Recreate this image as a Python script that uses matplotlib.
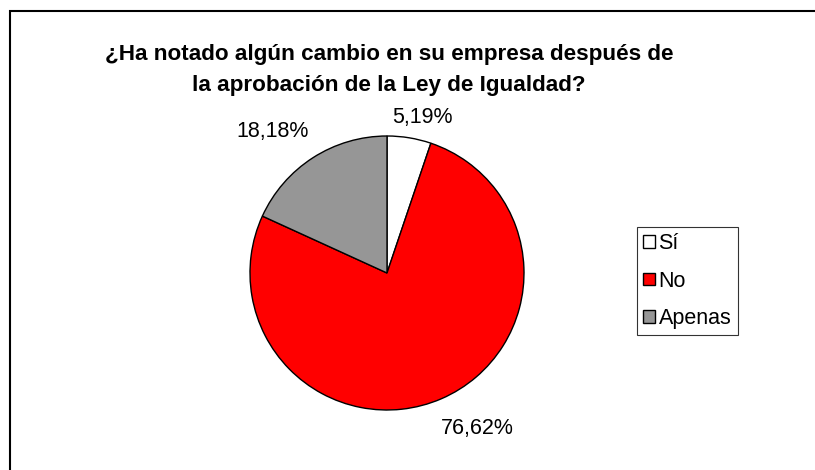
import numpy as np
import matplotlib
matplotlib.use("Agg")
import matplotlib.pyplot as plt
from matplotlib.patches import Rectangle

plt.rcParams["font.family"] = ["Liberation Sans", "DejaVu Sans"]

# data
categories = ["Sí", "No", "Apenas"]
values = [5.19, 76.62, 18.18]
value_labels = ["5,19%", "76,62%", "18,18%"]
colors = ["#FFFFFF", "#FF0000", "#969696"]
title = "¿Ha notado algún cambio en su empresa después de\nla aprobación de la Ley de Igualdad?"

# layout (pixel-like coordinates, y up)
W, H = 815, 470
center = (387, H - 273)
radius = 137
label_r = [1.16, 1.31, 1.33]        # label distance / radius
label_shift = [-3.4, 6.7, 6.3]      # degrees added to wedge mid-angle

fig = plt.figure(figsize=(W / 100, H / 100), dpi=100)
ax = fig.add_axes([0, 0, 1, 1])

wedges, _ = ax.pie(values, colors=colors, startangle=90, counterclock=False,
                   center=center, radius=radius,
                   wedgeprops=dict(edgecolor="black", linewidth=1.0))
ax.set_xlim(0, W)
ax.set_ylim(0, H)
ax.set_aspect("equal")
ax.axis("off")

for w, lab, r, sh in zip(wedges, value_labels, label_r, label_shift):
    mid = np.deg2rad((w.theta1 + w.theta2) / 2 + sh)
    ax.text(center[0] + r * radius * np.cos(mid),
            center[1] + r * radius * np.sin(mid),
            lab, ha="center", va="center", fontsize=15.5)

# outer chart border (runs off right and bottom edges)
ax.add_patch(Rectangle((10, -20), W + 20, H - 11 + 20, fill=False,
                       edgecolor="black", linewidth=1.5, clip_on=False))

fig.text(389 / W, 1 - 70 / H, title, ha="center", va="center",
         fontsize=16.2, fontweight="bold", linespacing=1.6)

leg = ax.legend(wedges, categories, loc="upper left",
                bbox_to_anchor=(637 / W, 1 - 227 / H), bbox_transform=fig.transFigure,
                fontsize=15.5, frameon=True, fancybox=False, borderaxespad=0,
                handlelength=0.55, handleheight=0.55, handletextpad=0.15,
                labelspacing=0.75, borderpad=0.3)
leg.get_frame().set_edgecolor("black")
leg.get_frame().set_linewidth(0.8)

fig.savefig("out.png", dpi=100)
